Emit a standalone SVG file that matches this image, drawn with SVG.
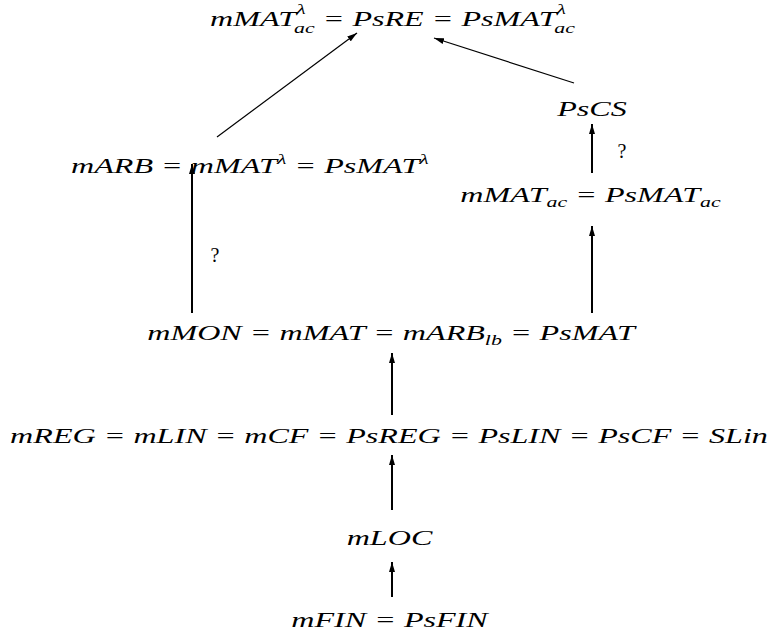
<svg xmlns="http://www.w3.org/2000/svg" width="774" height="638" viewBox="0 0 774 638">
<style>
  .m { font-family: "Liberation Serif", "Times New Roman", serif; font-style: italic; font-size: 22px; fill: #000; }
  .sc { font-size: 15px; }
  .q { font-family: "Liberation Serif", "Times New Roman", serif; font-size: 20px; fill: #000; text-anchor: middle; }
  .v { stroke: #000; stroke-width: 2; fill: none; }
  .d { stroke: #000; stroke-width: 1.2; fill: none; }
</style>
<defs>
  <marker id="ah" viewBox="0 0 10 6" refX="10" refY="3" markerWidth="10" markerHeight="6" markerUnits="userSpaceOnUse" orient="auto">
    <path d="M0,0 L10,3 L0,6 z" fill="#000"/>
  </marker>
</defs>
<rect width="774" height="638" fill="#fff"/>
<g id="connectors">
  <line class="d" x1="217" y1="137" x2="357" y2="33" marker-end="url(#ah)"/>
  <line class="d" x1="574" y1="83" x2="434" y2="38" marker-end="url(#ah)"/>
  <line class="v" x1="592" y1="173" x2="592" y2="124" marker-end="url(#ah)"/>
  <line class="v" x1="592" y1="313" x2="592" y2="226" marker-end="url(#ah)"/>
  <line class="v" x1="192" y1="313" x2="192" y2="164" marker-end="url(#ah)"/>
  <line class="v" x1="392" y1="415" x2="392" y2="353" marker-end="url(#ah)"/>
  <line class="v" x1="392" y1="510" x2="392" y2="455" marker-end="url(#ah)"/>
  <line class="v" x1="392" y1="597" x2="392" y2="562" marker-end="url(#ah)"/>
  <text class="q" x="215" y="262">?</text>
  <text class="q" x="622" y="158">?</text>
</g>
<g id="n-top">
  <text class="m" text-anchor="middle" transform="translate(392.5,26) scale(1.46,1)">mMAT<tspan class="sc" dy="-12">λ</tspan><tspan class="sc" dx="-8" dy="19">ac</tspan><tspan dy="-7"> = PsRE = PsMAT</tspan><tspan class="sc" dy="-12">λ</tspan><tspan class="sc" dx="-8" dy="19">ac</tspan></text>
</g>
<g id="n-pscs">
  <text class="m" text-anchor="middle" transform="translate(592,116) scale(1.46,1)">PsCS</text>
</g>
<g id="n-marb">
  <text class="m" text-anchor="start" transform="translate(71,173) scale(1.46,1)">mARB = mMAT<tspan class="sc" dy="-9">λ</tspan><tspan dy="9"> = PsMAT</tspan><tspan class="sc" dy="-9">λ</tspan></text>
</g>
<g id="n-mmatac">
  <text class="m" text-anchor="middle" transform="translate(590.5,202) scale(1.46,1)">mMAT<tspan class="sc" dy="5">ac</tspan><tspan dy="-5"> = PsMAT</tspan><tspan class="sc" dy="5">ac</tspan></text>
</g>
<g id="n-mmon">
  <text class="m" text-anchor="middle" transform="translate(391,340) scale(1.46,1)">mMON = mMAT = mARB<tspan class="sc" dy="5">lb</tspan><tspan dy="-5"> = PsMAT</tspan></text>
</g>
<g id="n-mreg">
  <text class="m" text-anchor="middle" transform="translate(389,443) scale(1.46,1)">mREG = mLIN = mCF = PsREG = PsLIN = PsCF = SLin</text>
</g>
<g id="n-mloc">
  <text class="m" text-anchor="middle" transform="translate(389.5,545) scale(1.46,1)">mLOC</text>
</g>
<g id="n-mfin">
  <text class="m" text-anchor="middle" transform="translate(389.5,627) scale(1.46,1)">mFIN = PsFIN</text>
</g>
</svg>
